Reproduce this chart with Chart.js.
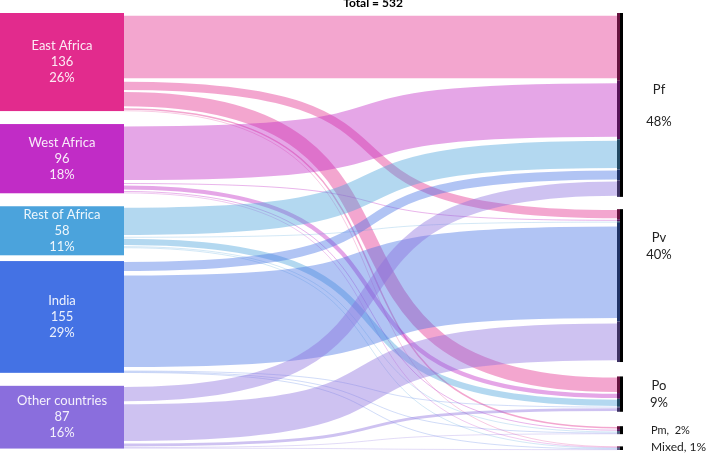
<!DOCTYPE html>
<html>
<head>
<meta charset="utf-8">
<script src="https://cdn.jsdelivr.net/npm/chart.js@4/dist/chart.umd.min.js"></script>
<style>
  html, body { margin: 0; padding: 0; background: #fff; }
  #wrap { position: relative; width: 707px; height: 454px; }
</style>
</head>
<body>
<div id="wrap"><canvas id="chart"></canvas></div>
<script>
// regions of origin (left) and species (right)
const sources = ['East Africa', 'West Africa', 'Rest of Africa', 'India', 'Other countries'];
const species = ['Pf', 'Pv', 'Po', 'Pm', 'Mixed'];

// cases per origin going to each species (same order as sources)
const toPf    = [94, 81, 42, 15, 23];
const toPv    = [14, 3, 2, 137, 56];
const toPo    = [23, 8, 11, 1, 6];
const toPm    = [4, 3, 2, 1, 1];
const toMixed = [1, 1, 1, 1, 1];

const sourceColors = ['#e22b8d', '#c12cc6', '#4ba3dc', '#4472e4', '#8a6edd'];

const flowsBySpecies = [toPf, toPv, toPo, toPm, toMixed];
const sourceTotals = sources.map((_, i) => flowsBySpecies.reduce((a, f) => a + f[i], 0));
const speciesTotals = flowsBySpecies.map(f => f.reduce((a, v) => a + v, 0));
const total = sourceTotals.reduce((a, v) => a + v, 0);

// layout (value units on y, pixels on x)
const leftGap = 18;
const rightGaps = [17, 20, 20, 17];
const minNodeBox = 68; // smallest drawn height of a left box, value units
const nodeRight = 124;
const linkEnd = 617;
const stripEnd = 620;
const barEnd = 623;
const bend = 0.72; // how far the curve handles reach across

function pct(v) { return Math.round(v / total * 100) + '%'; }

function hexToRgba(hex, a) {
  const n = parseInt(hex.slice(1), 16);
  return `rgba(${n >> 16}, ${(n >> 8) & 255}, ${n & 255}, ${a})`;
}
function darken(hex, f) {
  const n = parseInt(hex.slice(1), 16);
  return `rgb(${Math.round((n >> 16) * f)}, ${Math.round(((n >> 8) & 255) * f)}, ${Math.round((n & 255) * f)})`;
}

const sankeyPlugin = {
  id: 'sankey',
  afterDatasetsDraw(chart) {
    const { ctx, scales: { x, y } } = chart;
    const k = Math.abs(y.getPixelForValue(1) - y.getPixelForValue(0));

    // node extents in value units
    const leftStart = [];
    let acc = 0;
    sourceTotals.forEach((t, i) => { leftStart.push(acc); acc += t + leftGap; });
    const rightStart = [];
    acc = 0;
    speciesTotals.forEach((t, j) => { rightStart.push(acc); acc += t + (rightGaps[j] || 0); });

    const outCursor = leftStart.slice();
    const inCursor = rightStart.slice();
    const links = [];
    sources.forEach((_, i) => {
      species.forEach((_, j) => {
        const v = flowsBySpecies[j][i];
        links.push({ i, j, v, y0: outCursor[i] + v / 2 });
        outCursor[i] += v;
      });
    });
    species.forEach((_, j) => {
      sources.forEach((_, i) => {
        const l = links.find(l => l.i === i && l.j === j);
        l.y1 = inCursor[j] + l.v / 2;
        inCursor[j] += l.v;
      });
    });

    ctx.save();
    // links
    const xa = x.getPixelForValue(nodeRight);
    const xb = x.getPixelForValue(linkEnd);
    const L = xb - xa;
    links.forEach(l => {
      const ya = y.getPixelForValue(l.y0);
      const yb = y.getPixelForValue(l.y1);
      ctx.beginPath();
      ctx.moveTo(xa, ya);
      ctx.bezierCurveTo(xa + bend * L, ya, xb - bend * L, yb, xb, yb);
      ctx.lineWidth = Math.max(l.v * k * 0.94 - 1.2, 0.6);
      ctx.strokeStyle = hexToRgba(sourceColors[l.i], 0.42);
      ctx.lineCap = 'butt';
      ctx.stroke();
    });

    // right bars: coloured strip per incoming link + black bar
    links.forEach(l => {
      const top = y.getPixelForValue(l.y1 - l.v / 2);
      const bot = y.getPixelForValue(l.y1 + l.v / 2);
      ctx.fillStyle = darken(sourceColors[l.i], 0.45);
      ctx.fillRect(xb, top, x.getPixelForValue(stripEnd) - xb, bot - top);
    });
    species.forEach((_, j) => {
      const top = y.getPixelForValue(rightStart[j]);
      const bot = y.getPixelForValue(rightStart[j] + speciesTotals[j]);
      ctx.fillStyle = '#000';
      ctx.fillRect(x.getPixelForValue(stripEnd), top, x.getPixelForValue(barEnd) - x.getPixelForValue(stripEnd), Math.max(bot - top, 2));
    });

    // left nodes + labels
    ctx.textAlign = 'center';
    ctx.textBaseline = 'middle';
    sources.forEach((s, i) => {
      const top = y.getPixelForValue(leftStart[i]);
      const bot = y.getPixelForValue(leftStart[i] + Math.max(sourceTotals[i], minNodeBox));
      const x0 = x.getPixelForValue(0);
      ctx.fillStyle = sourceColors[i];
      ctx.fillRect(x0, top, xa - x0, bot - top);
      const cx = (x0 + xa) / 2, cy = (top + bot) / 2;
      ctx.fillStyle = 'rgba(255,255,255,0.9)';
      ctx.font = '13px Lato, "Noto Sans", sans-serif';
      ctx.fillText(s, cx, cy - 16);
      ctx.fillText(String(sourceTotals[i]), cx, cy);
      ctx.fillText(pct(sourceTotals[i]), cx, cy + 16);
    });

    // right labels
    ctx.fillStyle = '#222';
    const lx = x.getPixelForValue(659);
    const py = j => ({
      top: y.getPixelForValue(rightStart[j]),
      mid: y.getPixelForValue(rightStart[j] + speciesTotals[j] / 2)
    });
    ctx.font = '13px Lato, "Noto Sans", sans-serif';
    ctx.textAlign = 'center';
    let p = py(0);
    ctx.fillText(species[0], lx, p.mid - 15);
    ctx.fillText(pct(speciesTotals[0]), lx, p.mid + 17);
    p = py(1);
    ctx.fillText(species[1], lx, p.top + 29);
    ctx.fillText(pct(speciesTotals[1]), lx, p.top + 46);
    p = py(2);
    ctx.fillText(species[2], lx, p.mid - 8);
    ctx.fillText(pct(speciesTotals[2]), lx, p.mid + 9);
    ctx.textAlign = 'left';
    const lx2 = x.getPixelForValue(651);
    ctx.font = '11px Lato, "Noto Sans", sans-serif';
    p = py(3);
    ctx.fillText(species[3] + ',  ' + pct(speciesTotals[3]), lx2, p.mid);
    ctx.font = '12px Lato, "Noto Sans", sans-serif';
    p = py(4);
    ctx.fillText(species[4] + ', ' + pct(speciesTotals[4]), lx2, p.mid - 1);

    // title
    ctx.font = 'bold 12px Lato, "Noto Sans", sans-serif';
    ctx.textAlign = 'center';
    ctx.textBaseline = 'alphabetic';
    ctx.fillStyle = '#000';
    ctx.fillText('Total = ' + total, x.getPixelForValue(373), 7);
    ctx.restore();
  }
};

const ctx = document.getElementById('chart').getContext('2d');
new Chart(ctx, {
  type: 'scatter',
  data: { datasets: [] },
  options: {
    responsive: true,
    maintainAspectRatio: false,
    animation: false,
    layout: { padding: { top: 13, bottom: 4, left: 0, right: 0 } },
    plugins: {
      legend: { display: false },
      tooltip: { enabled: false },
      title: { display: false }
    },
    scales: {
      x: { type: 'linear', display: false, min: 0, max: 707 },
      y: { type: 'linear', display: false, min: 0, max: 606, reverse: true }
    }
  },
  plugins: [sankeyPlugin]
});
</script>
</body>
</html>
